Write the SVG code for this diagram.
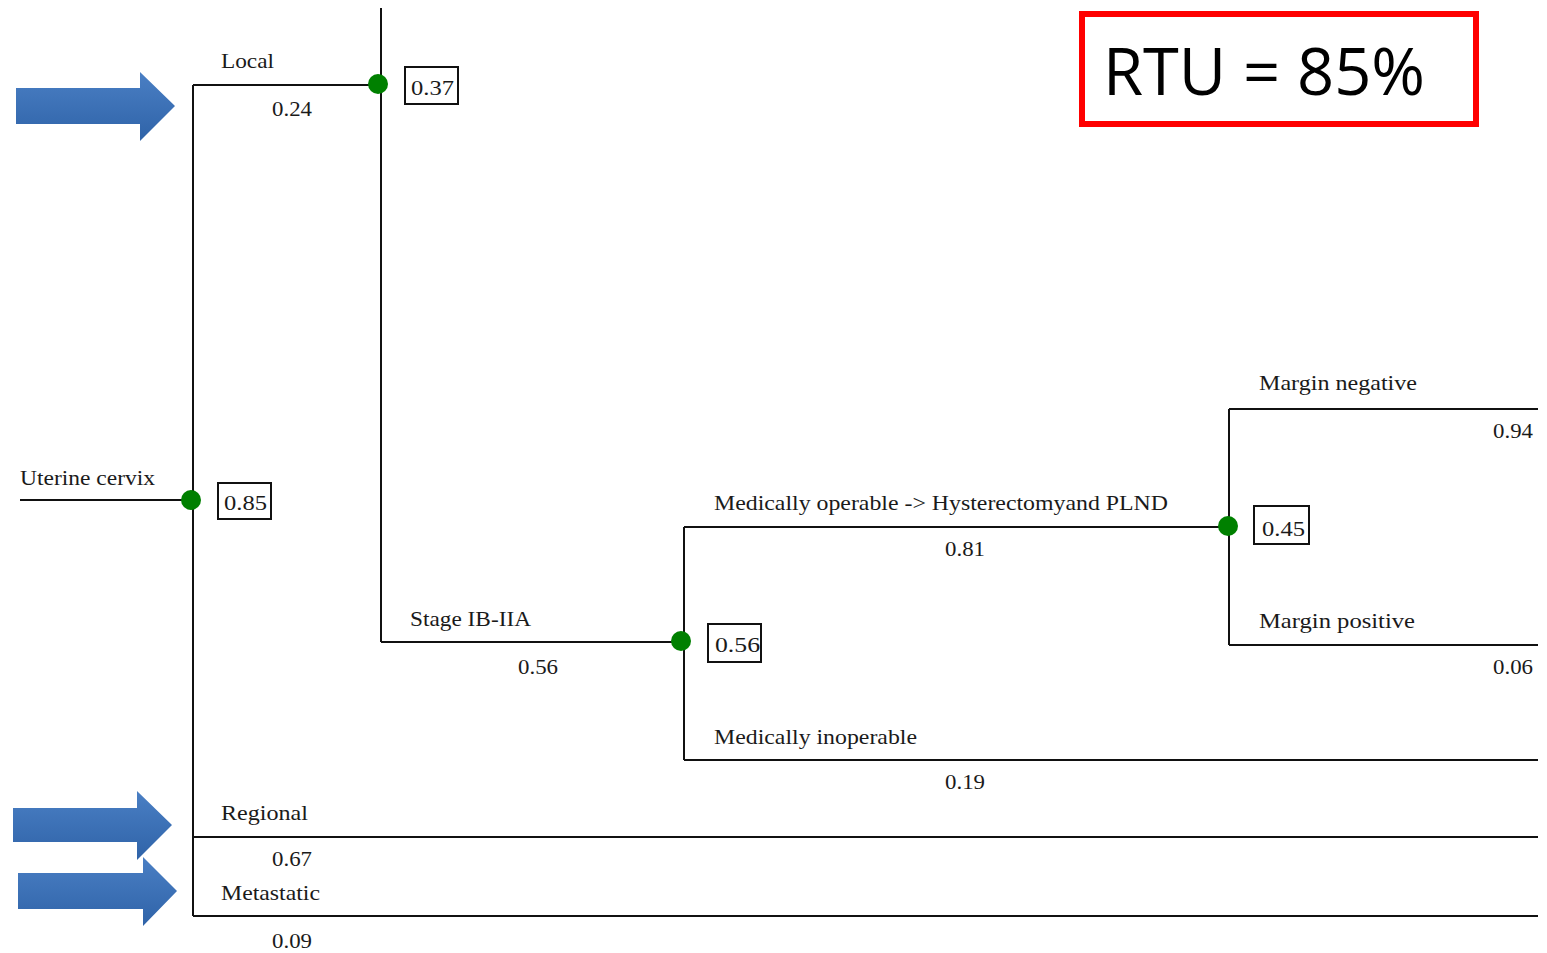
<svg xmlns="http://www.w3.org/2000/svg" width="1547" height="953" viewBox="0 0 1547 953">
<style>
.ln{stroke:#111;stroke-width:2;fill:none}
.lb{font-family:"Liberation Serif","Times New Roman",serif;font-size:21px;fill:#1a1a1a}
.nm{font-family:"Liberation Serif","Times New Roman",serif;font-size:22px;fill:#1a1a1a}
.bx{fill:#fff;stroke:#111;stroke-width:2}
.dot{fill:#008000}
.arr{fill:url(#bg)}
</style>
<defs>
<linearGradient id="bg" x1="0" y1="0" x2="0" y2="1">
<stop offset="0" stop-color="#4a7fc4"/>
<stop offset="1" stop-color="#2f63a8"/>
</linearGradient>
</defs>
<rect width="1547" height="953" fill="#fff"/>
<g id="connectors">
<path class="ln" d="M20 500H193"/>
<path class="ln" d="M193 85V916"/>
<path class="ln" d="M193 85H381"/>
<path class="ln" d="M381 8V642"/>
<path class="ln" d="M381 642H684"/>
<path class="ln" d="M684 527V760"/>
<path class="ln" d="M684 527H1229"/>
<path class="ln" d="M1229 409V645"/>
<path class="ln" d="M1229 409H1538"/>
<path class="ln" d="M1229 645H1538"/>
<path class="ln" d="M684 760H1538"/>
<path class="ln" d="M193 837H1538"/>
<path class="ln" d="M193 916H1538"/>
</g>
<g id="root">
<text class="lb" x="20" y="485" textLength="135" lengthAdjust="spacingAndGlyphs">Uterine cervix</text>
</g>
<g id="node-cervix">
<circle class="dot" cx="191" cy="500" r="10"/>
<rect class="bx" x="218" y="483" width="53" height="36"/>
<text class="nm" x="224" y="510" textLength="43" lengthAdjust="spacingAndGlyphs">0.85</text>
</g>
<g id="branch-local">
<text class="lb" x="221" y="68" textLength="53" lengthAdjust="spacingAndGlyphs">Local</text>
<text class="nm" x="272" y="116" textLength="40" lengthAdjust="spacingAndGlyphs">0.24</text>
</g>
<g id="node-local">
<circle class="dot" cx="378" cy="84" r="10"/>
<rect class="bx" x="405" y="67" width="53" height="37"/>
<text class="nm" x="411" y="95" textLength="43" lengthAdjust="spacingAndGlyphs">0.37</text>
</g>
<g id="branch-stage">
<text class="lb" x="410" y="626" textLength="121" lengthAdjust="spacingAndGlyphs">Stage IB-IIA</text>
<text class="nm" x="518" y="674" textLength="40" lengthAdjust="spacingAndGlyphs">0.56</text>
</g>
<g id="node-stage">
<circle class="dot" cx="681" cy="641" r="10"/>
<rect class="bx" x="708" y="624" width="53" height="38"/>
<text class="nm" x="715" y="652" textLength="45" lengthAdjust="spacingAndGlyphs">0.56</text>
</g>
<g id="branch-operable">
<text class="lb" x="714" y="510" textLength="454" lengthAdjust="spacingAndGlyphs">Medically operable -&gt; Hysterectomyand PLND</text>
<text class="nm" x="945" y="556" textLength="40" lengthAdjust="spacingAndGlyphs">0.81</text>
</g>
<g id="node-operable">
<circle class="dot" cx="1228" cy="526" r="10"/>
<rect class="bx" x="1254" y="506" width="55" height="38"/>
<text class="nm" x="1262" y="536" textLength="43" lengthAdjust="spacingAndGlyphs">0.45</text>
</g>
<g id="branch-margin-neg">
<text class="lb" x="1259" y="390" textLength="158" lengthAdjust="spacingAndGlyphs">Margin negative</text>
<text class="nm" x="1493" y="438" textLength="40" lengthAdjust="spacingAndGlyphs">0.94</text>
</g>
<g id="branch-margin-pos">
<text class="lb" x="1259" y="628" textLength="156" lengthAdjust="spacingAndGlyphs">Margin positive</text>
<text class="nm" x="1493" y="674" textLength="40" lengthAdjust="spacingAndGlyphs">0.06</text>
</g>
<g id="branch-inoperable">
<text class="lb" x="714" y="744" textLength="203" lengthAdjust="spacingAndGlyphs">Medically inoperable</text>
<text class="nm" x="945" y="789" textLength="40" lengthAdjust="spacingAndGlyphs">0.19</text>
</g>
<g id="branch-regional">
<text class="lb" x="221" y="820" textLength="87" lengthAdjust="spacingAndGlyphs">Regional</text>
<text class="nm" x="272" y="866" textLength="40" lengthAdjust="spacingAndGlyphs">0.67</text>
</g>
<g id="branch-metastatic">
<text class="lb" x="221" y="900" textLength="99" lengthAdjust="spacingAndGlyphs">Metastatic</text>
<text class="nm" x="272" y="948" textLength="40" lengthAdjust="spacingAndGlyphs">0.09</text>
</g>
<g id="rtu">
<rect x="1082" y="14" width="394" height="110" fill="#fff" stroke="#f00" stroke-width="6"/>
<text x="1103" y="95" font-family="'Open Sans','Liberation Sans',sans-serif" font-size="66" fill="#000" textLength="322" lengthAdjust="spacingAndGlyphs">RTU = 85%</text>
</g>
<g id="arrows">
<path class="arr" d="M16 88H140V72L175 106L140 141V124H16Z"/>
<path class="arr" d="M13 808H137V791L172 825L137 860V842H13Z"/>
<path class="arr" d="M18 873H143V857L177 891L143 926V909H18Z"/>
</g>
</svg>
